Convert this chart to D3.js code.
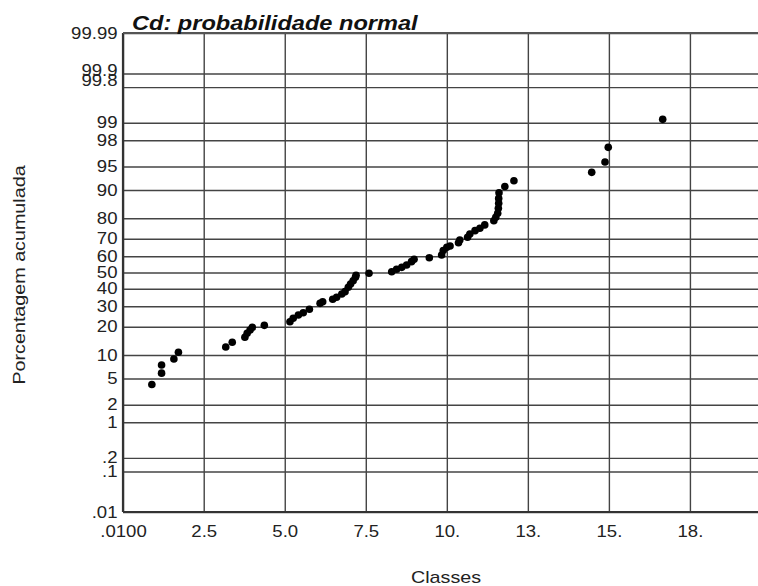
<!DOCTYPE html>
<html>
<head>
<meta charset="utf-8">
<script src="https://cdn.jsdelivr.net/npm/d3@7"></script>
<style>
  body { margin: 0; background: #fff; }
  svg text { font-family: "Liberation Sans", Arial, sans-serif; fill: #222; }
  .grid line { stroke: #444; stroke-width: 1.4; }
  .grid .domain { display: none; }
</style>
</head>
<body>
<svg id="chart"></svg>
<script>
// x values (Classes) and cumulative percentages
const classes = [0.9, 1.2, 1.2, 1.58, 1.72, 3.18, 3.38, 3.77, 3.84, 3.93, 4.0, 4.37,
  5.16, 5.26, 5.42, 5.57, 5.76, 6.09, 6.17, 6.48, 6.6, 6.76, 6.86, 6.96, 7.03, 7.11, 7.18, 7.2,
  7.6, 8.3, 8.45, 8.61, 8.76, 8.91, 8.99, 9.46, 9.84, 9.89, 10.0, 10.1, 10.36, 10.4, 10.64,
  10.71, 10.87, 11.02, 11.17, 11.45, 11.51, 11.57, 11.59, 11.6, 11.6, 11.61, 11.79, 12.07,
  14.47, 14.88, 14.98, 16.66];
const cumPct = [4.1, 5.9, 7.55, 8.96, 10.77, 12.37, 13.92, 15.72, 17.26, 18.6, 19.74, 20.6,
  22.2, 23.85, 25.5, 26.6, 28.4, 31.6, 32.5, 33.9, 35.0, 36.9, 38.3, 40.9, 42.9, 44.9, 47.0, 48.3,
  49.5, 50.5, 52.0, 53.2, 54.6, 56.7, 58.1, 59.1, 60.7, 63.3, 65.2, 66.0, 67.8, 69.3, 70.8,
  72.5, 74.2, 75.4, 77.0, 78.9, 80.4, 82.1, 84.1, 85.9, 87.5, 89.2, 90.9, 92.3,
  94.0, 95.7, 97.4, 99.13];

const xTickValues = [0.01, 2.5, 5, 7.5, 10, 12.5, 15, 17.5];
const xTickLabels = [".0100", "2.5", "5.0", "7.5", "10.", "13.", "15.", "18."];
const yTickValues = [0.01, 0.1, 0.2, 1, 2, 5, 10, 20, 30, 40, 50, 60, 70, 80, 90, 95, 98, 99, 99.8, 99.9, 99.99];
const yTickLabels = [".01", ".1", ".2", "1", "2", "5", "10", "20", "30", "40", "50", "60", "70", "80", "90", "95", "98", "99", "99.8", "99.9", "99.99"];

// inverse normal CDF (Acklam)
function probit(p) {
  const a = [-3.969683028665376e+01, 2.209460984245205e+02, -2.759285104469687e+02, 1.383577518672690e+02, -3.066479806614716e+01, 2.506628277459239e+00];
  const b = [-5.447609879822406e+01, 1.615858368580409e+02, -1.556989798598866e+02, 6.680131188771972e+01, -1.328068155288572e+01];
  const c = [-7.784894002430293e-03, -3.223964580411365e-01, -2.400758277161838e+00, -2.549732539343734e+00, 4.374664141464968e+00, 2.938163982698783e+00];
  const d = [7.784695709041462e-03, 3.224671290700398e-01, 2.445134137142996e+00, 3.754408661907416e+00];
  const pl = 0.02425;
  let q, r;
  if (p < pl) {
    q = Math.sqrt(-2 * Math.log(p));
    return (((((c[0]*q+c[1])*q+c[2])*q+c[3])*q+c[4])*q+c[5]) / ((((d[0]*q+d[1])*q+d[2])*q+d[3])*q+1);
  }
  if (p > 1 - pl) {
    q = Math.sqrt(-2 * Math.log(1 - p));
    return -(((((c[0]*q+c[1])*q+c[2])*q+c[3])*q+c[4])*q+c[5]) / ((((d[0]*q+d[1])*q+d[2])*q+d[3])*q+1);
  }
  q = p - 0.5; r = q * q;
  return (((((a[0]*r+a[1])*r+a[2])*r+a[3])*r+a[4])*r+a[5])*q / (((((b[0]*r+b[1])*r+b[2])*r+b[3])*r+b[4])*r+1);
}

const W = 758, H = 586;
const margin = {top: 33, right: 0, bottom: 74, left: 123};
const width = W - margin.left - margin.right;
const height = H - margin.top - margin.bottom;
const stretch = 1.16; // the source font is wider than Arial

const svg = d3.select('#chart').attr('width', W).attr('height', H);
const chart = svg.append('g').attr('transform', `translate(${margin.left},${margin.top})`);

const xScale = d3.scaleLinear().domain([0.01, 19.6]).range([0, width]);
const zScale = d3.scaleLinear().domain([probit(0.0001), probit(0.9999)]).range([height, 0]);
const yPos = pct => zScale(probit(pct / 100));

// vertical grid + x labels
const xAxis = d3.axisBottom(xScale)
  .tickValues(xTickValues)
  .tickFormat((d, i) => xTickLabels[i])
  .tickSize(-height)
  .tickPadding(13.5);
const xAxisG = chart.append('g')
  .attr('class', 'grid x-axis')
  .attr('transform', `translate(0,${height})`)
  .call(xAxis);
xAxisG.selectAll('text')
  .attr('font-size', 16)
  .attr('transform', `scale(${stretch},1)`);

// horizontal grid + probability labels
const yAxis = d3.axisLeft(zScale)
  .tickValues(yTickValues.map(v => probit(v / 100)))
  .tickFormat((d, i) => yTickLabels[i])
  .tickSize(-width)
  .tickPadding(5);
const yAxisG = chart.append('g')
  .attr('class', 'grid y-axis')
  .call(yAxis);
yAxisG.selectAll('text')
  .attr('font-size', 16)
  .attr('x', -5.5 / stretch)
  .attr('transform', `scale(${stretch},1)`)
  .attr('dy', (d, i) => yTickLabels[i] === '99.9' ? '0.1em' : yTickLabels[i] === '99.8' ? '-0.1em' : '0.32em');

// frame: left and bottom axis lines, top line
chart.append('line').attr('x1', 0).attr('x2', 0).attr('y1', 0).attr('y2', height)
  .attr('stroke', '#333').attr('stroke-width', 2.2);
chart.append('line').attr('x1', 0).attr('x2', width).attr('y1', height).attr('y2', height)
  .attr('stroke', '#333').attr('stroke-width', 2.2);
chart.append('line').attr('x1', 0).attr('x2', width).attr('y1', 0).attr('y2', 0)
  .attr('stroke', '#555').attr('stroke-width', 2);

// points
chart.selectAll('.point')
  .data(classes.map((c, i) => ({x: c, p: cumPct[i]})))
  .join('circle')
  .attr('class', 'point')
  .attr('cx', d => xScale(d.x))
  .attr('cy', d => yPos(d.p))
  .attr('r', 3.8)
  .attr('fill', '#000');

// title
svg.append('text')
  .attr('transform', `translate(132,30) scale(1.18,1)`)
  .attr('font-size', 20)
  .attr('font-weight', 'bold')
  .attr('font-style', 'italic')
  .style('fill', '#111')
  .text('Cd: probabilidade normal');

// axis titles
svg.append('text')
  .attr('transform', `translate(446,583) scale(${stretch},1)`)
  .attr('text-anchor', 'middle')
  .attr('font-size', 17)
  .text('Classes');

svg.append('text')
  .attr('transform', `translate(25,275) rotate(-90) scale(${stretch},1)`)
  .attr('text-anchor', 'middle')
  .attr('font-size', 17)
  .text('Porcentagem acumulada');
</script>
</body>
</html>
